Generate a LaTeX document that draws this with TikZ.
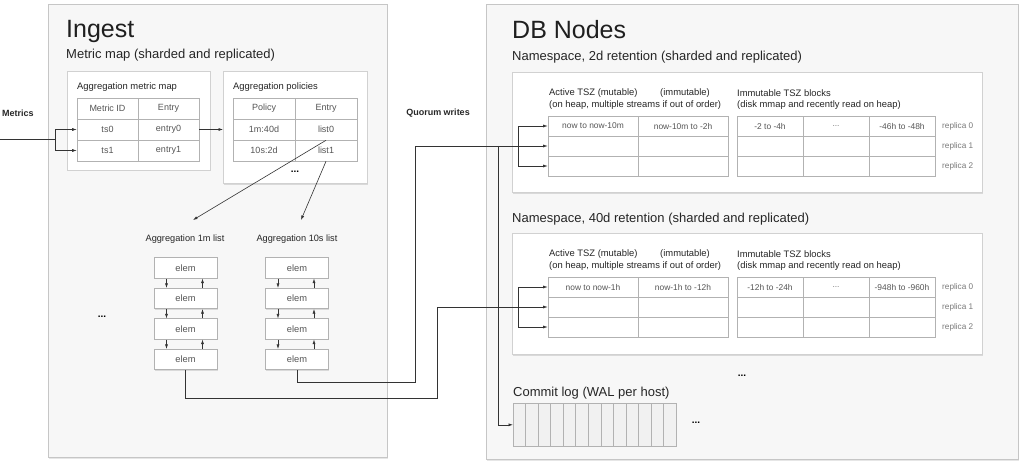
\documentclass[tikz,border=0pt]{standalone}
\usepackage{fontspec}
\setmainfont{Liberation Sans}
\usepackage{xcolor}
\usetikzlibrary{arrows.meta,shadows}
\definecolor{framegray}{HTML}{C6C6C6}
\definecolor{framefill}{HTML}{F7F7F7}
\definecolor{linegray}{HTML}{B2B2B2}
\definecolor{textgray}{HTML}{555555}
\definecolor{labelgray}{HTML}{7A7A7A}
\definecolor{wireblack}{HTML}{333333}
\definecolor{walfill}{HTML}{F1F1F1}
\begin{document}
\begin{tikzpicture}[x=1pt,y=-1pt,
	frame/.style={draw=framegray, fill=framefill, line width=0.8pt, anchor=north west, inner sep=0pt, drop shadow={opacity=0.2, shadow xshift=1pt, shadow yshift=-1.5pt}},
	panel/.style={draw=framegray!80, fill=white, line width=0.6pt, anchor=north west, inner sep=0pt, drop shadow={opacity=0.25, shadow xshift=0.6pt, shadow yshift=-1.2pt}},
	cell/.style={draw=linegray, line width=0.6pt, inner sep=0pt, minimum width=61pt, minimum height=21pt, text=textgray, font=\fontsize{9}{10}\selectfont},
	tsz/.style={cell, minimum width=90pt, minimum height=20pt, font=\fontsize{8.4}{9}\selectfont},
	blk/.style={tsz, minimum width=66pt},
	elem/.style={cell, fill=white, minimum width=63pt, minimum height=20.5pt, font=\fontsize{9.3}{10}\selectfont, drop shadow={opacity=0.25, shadow xshift=0.5pt, shadow yshift=-1pt}},
	replica/.style={anchor=west, inner sep=0pt, text=labelgray, font=\fontsize{8.2}{9}\selectfont},
	heading/.style={anchor=west, inner sep=0pt, text=black!85, font=\fontsize{9.4}{10}\selectfont},
	title/.style={anchor=base west, inner sep=0pt, text=black!88, font=\fontsize{25}{28}\selectfont},
	subtitle/.style={anchor=base west, inner sep=0pt, text=black!85, font=\fontsize{13}{15}\selectfont},
	bold/.style={inner sep=0pt, text=black!85, font=\fontsize{9}{10}\selectfont\bfseries},
	dots/.style={inner sep=0pt, font=\fontsize{10}{10}\selectfont\bfseries},
	conn/.style={draw=wireblack, line width=0.6pt, -{Latex[length=4.5pt,width=3pt]}},
	wire/.style={draw=wireblack, line width=0.6pt}]
	\useasboundingbox (0,0) rectangle (1024,465);

	\node[frame, minimum width=339pt, minimum height=453pt] (ingest) at (48,4) {};
	\node[frame, minimum width=532pt, minimum height=455pt] (dbnodes) at (486,4) {};

	\node[title] (ingesttitle) at (66,38) {Ingest};
	\node[subtitle] (metricmap) at (66,59) {Metric map (sharded and replicated)};

	\node[panel, minimum width=143pt, minimum height=99pt] (mapbox) at (67,71) {};
	\node[heading] (mapheading) at (77,87) {Aggregation metric map};
	\node[cell] (mid) at (107.5,108.5) {Metric ID};
	\node[cell] (ment) at (168.5,108.5) {Entry};
	\node[cell] (ts0) at (107.5,129.5) {ts0};
	\node[cell] (ent0) at (168.5,129.5) {entry0};
	\node[cell] (ts1) at (107.5,150.5) {ts1};
	\node[cell] (ent1) at (168.5,150.5) {entry1};

	\node[panel, minimum width=144pt, minimum height=112pt] (polbox) at (223,71) {};
	\node[heading] (polheading) at (233,87) {Aggregation policies};
	\node[cell, minimum width=62pt] (pol) at (264,108.5) {Policy};
	\node[cell, minimum width=62pt] (pent) at (326,108.5) {Entry};
	\node[cell, minimum width=62pt] (p0) at (264,129.5) {1m:40d};
	\node[cell, minimum width=62pt] (l0) at (326,129.5) {list0};
	\node[cell, minimum width=62pt] (p1) at (264,150.5) {10s:2d};
	\node[cell, minimum width=62pt] (l1) at (326,150.5) {list1};
	\node[dots] (poldots) at (295,172) {...};

	\node[bold] (metrics) at (18,113) {Metrics};
	\coordinate (metricsin) at (0,139);
	\draw[wire] (metricsin) -- (55,139);
	\draw[conn] (55,139) |- (ts0.west);
	\draw[conn] (55,139) |- (ts1.west);
	\draw[conn] (ent0.east) -- (ent0.east -| polbox.west);

	\node[bold, font=\fontsize{9.2}{10}\selectfont] (agg1m) at (185,239) {Aggregation 1m list};
	\node[bold, font=\fontsize{9.2}{10}\selectfont] (agg10s) at (297,239) {Aggregation 10s list};
	\coordinate (in1m) at (193,220);
	\coordinate (in10s) at (301,220);
	\draw[conn] (l0.south) -- (in1m);
	\draw[conn] (l1.south) -- (in10s);

	\node[elem] (m1) at (185.5,268) {elem};
	\node[elem] (m2) at (185.5,298.5) {elem};
	\node[elem] (m3) at (185.5,329) {elem};
	\node[elem] (m4) at (185.5,359.5) {elem};
	\node[elem] (t1) at (297,268) {elem};
	\node[elem] (t2) at (297,298.5) {elem};
	\node[elem] (t3) at (297,329) {elem};
	\node[elem] (t4) at (297,359.5) {elem};

	\draw[conn] ([xshift=-19pt]m1.south) -- ([xshift=-19pt]m2.north);
	\draw[conn] ([xshift=17pt]m2.north) -- ([xshift=17pt]m1.south);
	\draw[conn] ([xshift=-19pt]m2.south) -- ([xshift=-19pt]m3.north);
	\draw[conn] ([xshift=17pt]m3.north) -- ([xshift=17pt]m2.south);
	\draw[conn] ([xshift=-19pt]m3.south) -- ([xshift=-19pt]m4.north);
	\draw[conn] ([xshift=17pt]m4.north) -- ([xshift=17pt]m3.south);
	\draw[conn] ([xshift=-19pt]t1.south) -- ([xshift=-19pt]t2.north);
	\draw[conn] ([xshift=17pt]t2.north) -- ([xshift=17pt]t1.south);
	\draw[conn] ([xshift=-19pt]t2.south) -- ([xshift=-19pt]t3.north);
	\draw[conn] ([xshift=17pt]t3.north) -- ([xshift=17pt]t2.south);
	\draw[conn] ([xshift=-19pt]t3.south) -- ([xshift=-19pt]t4.north);
	\draw[conn] ([xshift=17pt]t4.north) -- ([xshift=17pt]t3.south);
	\node[dots] (ingestdots) at (102,317) {...};

	\node[title] (dbtitle) at (512,39) {DB Nodes};
	\node[subtitle] (ns2dtitle) at (512,61) {Namespace, 2d retention (sharded and replicated)};
	\node[panel, minimum width=470pt, minimum height=120pt] (ns2d) at (512,72) {};
	\node[heading] (act2d) at (549,93) {Active TSZ (mutable)};
	\node[heading] (imm2d) at (660,93) {(immutable)};
	\node[heading] (heap2d) at (549,105) {(on heap, multiple streams if out of order)};
	\node[heading] (blk2d) at (737,93) {Immutable TSZ blocks};
	\node[heading] (disk2d) at (737,105) {(disk mmap and recently read on heap)};
	\node[tsz] (a00) at (593,126) {now to now-10m};
	\node[tsz] (a01) at (683,126) {now-10m to -2h};
	\node[tsz] (a10) at (593,146) {};
	\node[tsz] (a11) at (683,146) {};
	\node[tsz] (a20) at (593,166) {};
	\node[tsz] (a21) at (683,166) {};
	\node[blk] (a02) at (770,126) {-2 to -4h};
	\node[blk, text=labelgray] (a03) at (836,126) {...};
	\node[blk] (a04) at (902,126) {-46h to -48h};
	\node[blk] (a12) at (770,146) {};
	\node[blk] (a13) at (836,146) {};
	\node[blk] (a14) at (902,146) {};
	\node[blk] (a22) at (770,166) {};
	\node[blk] (a23) at (836,166) {};
	\node[blk] (a24) at (902,166) {};
	\node[replica] (ar0) at (942,126) {replica 0};
	\node[replica] (ar1) at (942,146) {replica 1};
	\node[replica] (ar2) at (942,166) {replica 2};

	\node[subtitle] (ns40dtitle) at (512,222) {Namespace, 40d retention (sharded and replicated)};
	\node[panel, minimum width=470pt, minimum height=121pt] (ns40d) at (512,233) {};
	\node[heading] (act40d) at (549,254) {Active TSZ (mutable)};
	\node[heading] (imm40d) at (660,254) {(immutable)};
	\node[heading] (heap40d) at (549,266) {(on heap, multiple streams if out of order)};
	\node[heading] (blk40d) at (737,254) {Immutable TSZ blocks};
	\node[heading] (disk40d) at (737,266) {(disk mmap and recently read on heap)};
	\node[tsz] (b00) at (593,287) {now to now-1h};
	\node[tsz] (b01) at (683,287) {now-1h to -12h};
	\node[tsz] (b10) at (593,307) {};
	\node[tsz] (b11) at (683,307) {};
	\node[tsz] (b20) at (593,327) {};
	\node[tsz] (b21) at (683,327) {};
	\node[blk] (b02) at (770,287) {-12h to -24h};
	\node[blk, text=labelgray] (b03) at (836,287) {...};
	\node[blk] (b04) at (902,287) {-948h to -960h};
	\node[blk] (b12) at (770,307) {};
	\node[blk] (b13) at (836,307) {};
	\node[blk] (b14) at (902,307) {};
	\node[blk] (b22) at (770,327) {};
	\node[blk] (b23) at (836,327) {};
	\node[blk] (b24) at (902,327) {};
	\node[replica] (br0) at (942,287) {replica 0};
	\node[replica] (br1) at (942,307) {replica 1};
	\node[replica] (br2) at (942,327) {replica 2};

	\node[dots] (nsdots) at (742,376) {...};
	\node[subtitle] (waltitle) at (513,396) {Commit log (WAL per host)};
	\node[cell, fill=walfill, anchor=north west, minimum width=163pt, minimum height=43pt, drop shadow={opacity=0.2, shadow xshift=0.5pt, shadow yshift=-1pt}] (wal) at (513,403) {};
	\foreach \i in {1,...,12}
		\draw[draw=linegray, line width=0.5pt] ([xshift=\i*12.54pt]wal.north west) -- ([xshift=\i*12.54pt]wal.south west);
	\node[dots] (waldots) at (696,423) {...};

	\node[bold] (quorum) at (438,113) {Quorum writes};
	\draw[conn] (t4.south) |- (415,382) |- (a10.west);
	\draw[conn] (518,146) |- (a00.west);
	\draw[conn] (518,146) |- (a20.west);
	\draw[conn] (498,146) |- (wal.west);
	\draw[conn] (m4.south) |- (437,398) |- (b10.west);
	\draw[conn] (518,307) |- (b00.west);
	\draw[conn] (518,307) |- (b20.west);
\end{tikzpicture}
\end{document}
